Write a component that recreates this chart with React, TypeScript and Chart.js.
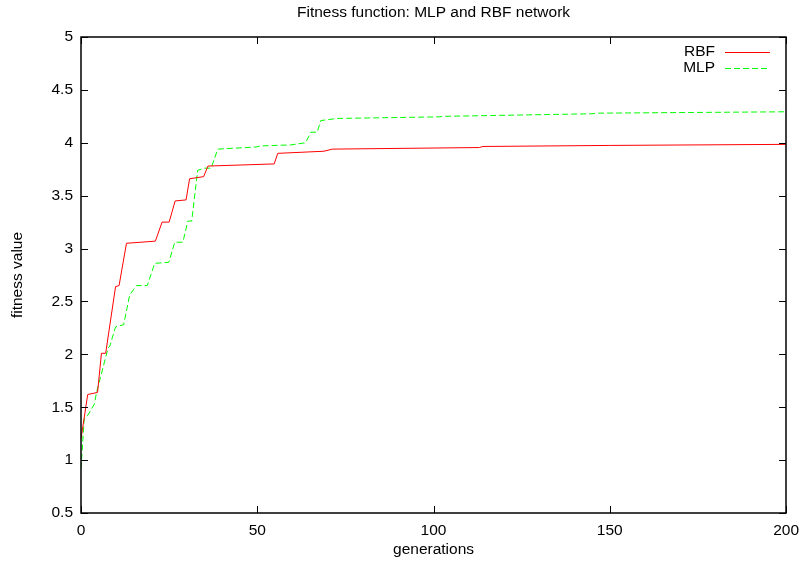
import React, { useEffect, useRef } from "react";
import { Chart, registerables } from "chart.js";

Chart.register(...registerables);

const titleText = "Fitness function: MLP and RBF network";
const xTitle = "generations";
const yTitle = "fitness value";

const xTicks = [0, 50, 100, 150, 200];
const yTicks = [0.5, 1, 1.5, 2, 2.5, 3, 3.5, 4, 4.5, 5];

const rbfLabel = "RBF";
const rbfGen = [0, 1.9, 4.7, 5.8, 7, 9.8, 10.8, 12.9, 21.1, 23, 25, 26.7, 29.8, 30.8, 34.8, 36, 54.8, 55.8, 68.9, 71.3, 113, 114, 150, 200];
const rbfFit = [1.2, 1.62, 1.64, 2.01, 2.01, 2.64, 2.65, 3.05, 3.07, 3.25, 3.25, 3.45, 3.46, 3.66, 3.68, 3.78, 3.8, 3.9, 3.92, 3.94, 3.955, 3.965, 3.975, 3.985];

const mlpLabel = "MLP";
const mlpGen = [0, 0.9, 1.5, 3.8, 4.4, 7.7, 8.2, 9.8, 12.1, 13.8, 15.7, 18.8, 20.9, 24.9, 26.6, 28.9, 30.3, 31.4, 33.1, 35, 36.9, 38.8, 49.6, 50.9, 59.5, 63.7, 65.2, 67, 68, 72.7, 101.5, 103, 144.7, 146.6, 200];
const mlpFit = [0.92, 1.39, 1.4, 1.53, 1.64, 2.06, 2.08, 2.26, 2.28, 2.56, 2.65, 2.65, 2.86, 2.87, 3.06, 3.06, 3.26, 3.26, 3.74, 3.76, 3.76, 3.94, 3.96, 3.97, 3.98, 4.0, 4.1, 4.1, 4.21, 4.23, 4.245, 4.25, 4.274, 4.28, 4.293];

const FONT = "'Liberation Sans', Arial, sans-serif";
const FS = 15.5;
const RED = "#ff0000";
const GREEN = "#00ff00";
const DASH = [6, 3];

const gnuplotDecor = {
  id: "gnuplotDecor",
  afterDraw(chart: any) {
    const { ctx, chartArea } = chart;
    const { left, right, top, bottom } = chartArea;
    const xs = chart.scales.x;
    const ys = chart.scales.y;
    const tl = 7;
    ctx.save();
    ctx.strokeStyle = "#000";
    ctx.lineWidth = 1;
    ctx.setLineDash([]);
    ctx.beginPath();
    for (const v of yTicks) {
      const py = Math.round(ys.getPixelForValue(v)) + 0.5;
      ctx.moveTo(left, py);
      ctx.lineTo(left + tl, py);
      ctx.moveTo(right, py);
      ctx.lineTo(right - tl, py);
    }
    for (const v of xTicks) {
      const px = Math.round(xs.getPixelForValue(v)) + 0.5;
      ctx.moveTo(px, bottom);
      ctx.lineTo(px, bottom - tl);
      ctx.moveTo(px, top);
      ctx.lineTo(px, top + tl);
    }
    ctx.stroke();
    ctx.lineWidth = 1.5;
    ctx.strokeRect(Math.round(left), Math.round(top), Math.round(right) - Math.round(left), Math.round(bottom) - Math.round(top));

    // title
    ctx.fillStyle = "#000";
    ctx.font = `${FS}px ${FONT}`;
    ctx.textAlign = "center";
    ctx.textBaseline = "middle";
    ctx.fillText(titleText, (left + right) / 2, 13);

    // legend
    const items = [
      { label: rbfLabel, color: RED, dash: [] as number[] },
      { label: mlpLabel, color: GREEN, dash: DASH },
    ];
    items.forEach((it, i) => {
      const y = 52 + i * 15.5;
      ctx.fillStyle = "#000";
      ctx.textAlign = "right";
      ctx.textBaseline = "middle";
      ctx.fillText(it.label, 715, y);
      ctx.strokeStyle = it.color;
      ctx.lineWidth = 1;
      ctx.setLineDash(it.dash);
      ctx.beginPath();
      ctx.moveTo(725, Math.round(y) + 0.5);
      ctx.lineTo(770, Math.round(y) + 0.5);
      ctx.stroke();
    });
    ctx.restore();
  },
};

export default function App() {
  const ref = useRef<HTMLCanvasElement>(null);
  useEffect(() => {
    if (!ref.current) return;
    const chart = new Chart(ref.current, {
      type: "line",
      data: {
        datasets: [
          {
            label: rbfLabel,
            data: rbfGen.map((g, i) => ({ x: g, y: rbfFit[i] })),
            borderColor: RED,
            borderWidth: 1,
            pointRadius: 0,
            tension: 0,
            fill: false,
          },
          {
            label: mlpLabel,
            data: mlpGen.map((g, i) => ({ x: g, y: mlpFit[i] })),
            borderColor: GREEN,
            borderWidth: 1,
            borderDash: DASH,
            pointRadius: 0,
            tension: 0,
            fill: false,
          },
        ],
      },
      options: {
        animation: false,
        responsive: true,
        maintainAspectRatio: false,
        layout: { padding: { top: 37, right: 18, left: 0, bottom: 0 } },
        plugins: {
          legend: { display: false },
          title: { display: false },
          tooltip: { enabled: false },
        },
        scales: {
          x: {
            type: "linear",
            min: 0,
            max: 200,
            grid: { display: false, drawTicks: false },
            border: { display: false },
            afterBuildTicks: (s: any) => {
              s.ticks = xTicks.map((v) => ({ value: v }));
            },
            afterFit: (s: any) => {
              s.height = 50;
            },
            ticks: {
              padding: 8,
              color: "#000",
              font: { family: FONT, size: FS },
              maxRotation: 0,
              callback: (v: any) => String(v),
            },
            title: {
              display: true,
              text: xTitle,
              color: "#000",
              font: { family: FONT, size: FS },
              padding: { top: 0, bottom: 4 },
            },
          },
          y: {
            type: "linear",
            min: 0.5,
            max: 5,
            grid: { display: false, drawTicks: false },
            border: { display: false },
            afterBuildTicks: (s: any) => {
              s.ticks = yTicks.map((v) => ({ value: v }));
            },
            afterFit: (s: any) => {
              s.width = 81;
            },
            ticks: {
              padding: 8,
              color: "#000",
              font: { family: FONT, size: FS },
              callback: (v: any) => String(v),
            },
            title: {
              display: true,
              text: yTitle,
              color: "#000",
              font: { family: FONT, size: FS },
              padding: { top: 8, bottom: 0 },
            },
          },
        },
      },
      plugins: [gnuplotDecor],
    } as any);
    return () => chart.destroy();
  }, []);
  return (
    <div style={{ position: "fixed", left: 0, top: 0, width: 807, height: 563, background: "#fff" }}>
      <canvas ref={ref} />
    </div>
  );
}
